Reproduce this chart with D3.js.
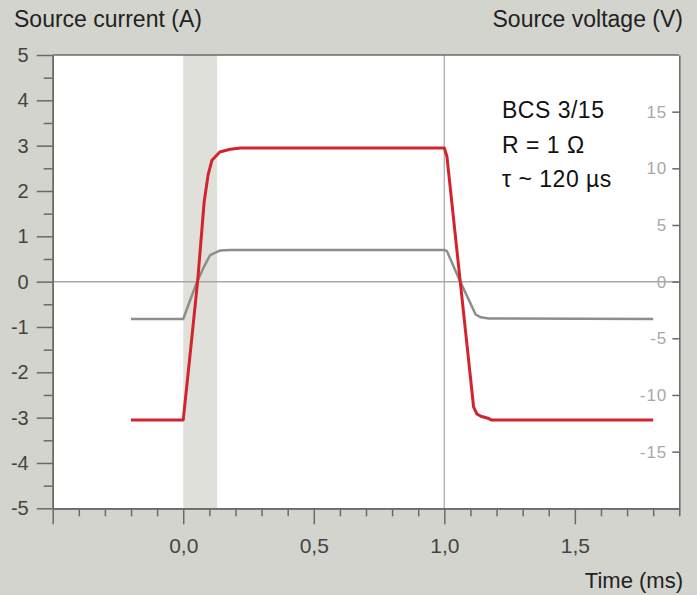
<!DOCTYPE html>
<html>
<head>
<meta charset="utf-8">
<script src="https://cdn.jsdelivr.net/npm/d3@7"></script>
<style>
  body { margin: 0; background: #d4d4ce; }
  svg { display: block; font-family: "Liberation Sans", Arial, sans-serif; }
</style>
</head>
<body>
<div class="chart"></div>
<script>
// current trace (A) vs time (ms)
var currentTime = [-0.2, 0, 0.03, 0.055, 0.08, 0.095, 0.11, 0.14, 0.18, 0.22, 1.0, 1.01, 1.061, 1.112, 1.125, 1.14, 1.17, 1.18, 1.8];
var currentAmps = [-3.05, -3.05, -1.4, 0, 1.75, 2.35, 2.68, 2.86, 2.92, 2.95, 2.95, 2.76, 0, -2.76, -2.92, -2.97, -3.02, -3.05, -3.05];

// voltage trace (V) vs time (ms)
var voltageTime = [-0.2, 0, 0.027, 0.053, 0.079, 0.103, 0.14, 0.18, 1.0, 1.01, 1.061, 1.12, 1.14, 1.17, 1.8];
var voltageVolts = [-3.3, -3.3, -1.6, 0, 1.3, 2.35, 2.74, 2.8, 2.8, 2.7, 0, -2.9, -3.15, -3.25, -3.3];

var leftTicks = [-5, -4, -3, -2, -1, 0, 1, 2, 3, 4, 5];
var rightTicks = [-15, -10, -5, 0, 5, 10, 15];
var timeTicks = [0, 0.5, 1.0, 1.5];
var shadeBand = [0, 0.13];
var notes = ["BCS 3/15", "R = 1 \u03A9", "\u03C4 ~ 120 \u00B5s"];

var W = 697, H = 595;
var plot = { left: 52.7, right: 679.3, top: 55, bottom: 508.3 };

var svg = d3.select('.chart')
  .append('svg')
    .attr('width', W)
    .attr('height', H);

var x = d3.scaleLinear().domain([-0.5, 1.9]).range([plot.left, plot.right]);
var yA = d3.scaleLinear().domain([-5, 5]).range([plot.bottom, plot.top]);
var yV = d3.scaleLinear().domain([-20, 20]).range([plot.bottom, plot.top]);

svg.append('rect')
  .attr('x', plot.left).attr('y', plot.top)
  .attr('width', plot.right - plot.left).attr('height', plot.bottom - plot.top)
  .attr('fill', '#ffffff');

svg.append('rect')
  .attr('x', x(shadeBand[0])).attr('y', plot.top)
  .attr('width', x(shadeBand[1]) - x(shadeBand[0])).attr('height', plot.bottom - plot.top)
  .attr('fill', '#e0e0da');

// reference lines
svg.append('line')
  .attr('x1', x(1.0)).attr('x2', x(1.0))
  .attr('y1', plot.top).attr('y2', plot.bottom)
  .attr('stroke', '#b4b4b4').attr('stroke-width', 1.5);
svg.append('line')
  .attr('x1', plot.left).attr('x2', plot.right)
  .attr('y1', yA(0)).attr('y2', yA(0))
  .attr('stroke', '#a8a8a8').attr('stroke-width', 1.5);

// traces
var voltLine = d3.line()
  .x(function(d, i) { return x(voltageTime[i]); })
  .y(function(d) { return yV(d); });
svg.append('path')
  .attr('d', voltLine(voltageVolts))
  .attr('fill', 'none').attr('stroke', '#8c8e88').attr('stroke-width', 2.5)
  .attr('stroke-linejoin', 'round');

var ampLine = d3.line()
  .x(function(d, i) { return x(currentTime[i]); })
  .y(function(d) { return yA(d); });
svg.append('path')
  .attr('d', ampLine(currentAmps))
  .attr('fill', 'none').attr('stroke', '#d2242c').attr('stroke-width', 3)
  .attr('stroke-linejoin', 'round');

// top frame line
svg.append('line')
  .attr('x1', plot.left).attr('x2', plot.right)
  .attr('y1', plot.top).attr('y2', plot.top)
  .attr('stroke', '#6a6a6a').attr('stroke-width', 1.5);

var plain = function(d) { return String(d); };   // keeps "-" instead of unicode minus

// left axis: major + minor
var minorA = d3.range(-4.5, 5, 1);
svg.append('g')
  .attr('class', 'ax')
  .attr('transform', `translate(${plot.left},0)`)
  .call(d3.axisLeft(yA).tickValues(minorA).tickSize(9).tickSizeOuter(0).tickFormat(''));
svg.append('g')
  .attr('class', 'ax leftlab')
  .attr('transform', `translate(${plot.left},0)`)
  .call(d3.axisLeft(yA).tickValues(leftTicks).tickSize(16).tickSizeOuter(0).tickPadding(8)
    .tickFormat(plain));

// bottom axis
var minorT = d3.range(-4, 20, 1).map(function(d) { return d / 10; })
  .filter(function(d) { return Math.abs(d * 2 - Math.round(d * 2)) > 1e-6; });
svg.append('g')
  .attr('class', 'ax')
  .attr('transform', `translate(0,${plot.bottom})`)
  .call(d3.axisBottom(x).tickValues(minorT).tickSize(8).tickSizeOuter(0).tickFormat(''));
svg.append('g')
  .attr('class', 'ax')
  .attr('transform', `translate(0,${plot.bottom})`)
  .call(d3.axisBottom(x).tickValues([-0.5]).tickSize(16).tickSizeOuter(0).tickFormat(''));
svg.append('g')
  .attr('class', 'ax bottomlab')
  .attr('transform', `translate(0,${plot.bottom})`)
  .call(d3.axisBottom(x).tickValues(timeTicks).tickSize(16).tickSizeOuter(0).tickPadding(14)
    .tickFormat(function(d) { return d.toFixed(1).replace('.', ','); }));

// right axis (voltage), ticks inside
svg.append('g')
  .attr('class', 'ax rightlab')
  .attr('transform', `translate(${plot.right},0)`)
  .call(d3.axisLeft(yV).tickValues(rightTicks).tickSize(7).tickSizeOuter(0).tickPadding(5)
    .tickFormat(plain));

svg.selectAll('.ax path.domain').attr('stroke', '#6a6a6a').attr('stroke-width', 1.5);
svg.selectAll('.ax .tick line').attr('stroke', '#6a6a6a').attr('stroke-width', 1.5);
svg.selectAll('.leftlab text').attr('font-size', 20).attr('fill', '#444').attr('font-family', null);
svg.selectAll('.bottomlab text').attr('font-size', 21).attr('fill', '#444').attr('font-family', null);
svg.selectAll('.rightlab text').attr('font-size', 17).attr('fill', '#a8a8a8')
  .attr('letter-spacing', 1).attr('font-family', null);

// titles
svg.append('text').text('Source current (A)')
  .attr('x', 14).attr('y', 27).attr('font-size', 23).attr('fill', '#222');
svg.append('text').text('Source voltage (V)')
  .attr('x', 683).attr('y', 27).attr('text-anchor', 'end').attr('font-size', 23).attr('fill', '#222');
svg.append('text').text('Time (ms)')
  .attr('x', 683).attr('y', 588).attr('text-anchor', 'end').attr('font-size', 22).attr('fill', '#222');

// annotation
svg.selectAll('.note')
  .data(notes)
  .enter().append('text')
    .attr('class', 'note')
    .attr('x', 502)
    .attr('y', function(d, i) { return 118 + i * 34.5; })
    .attr('font-size', 23)
    .attr('letter-spacing', 0.5)
    .attr('fill', '#111')
    .text(function(d) { return d; });
</script>
</body>
</html>
